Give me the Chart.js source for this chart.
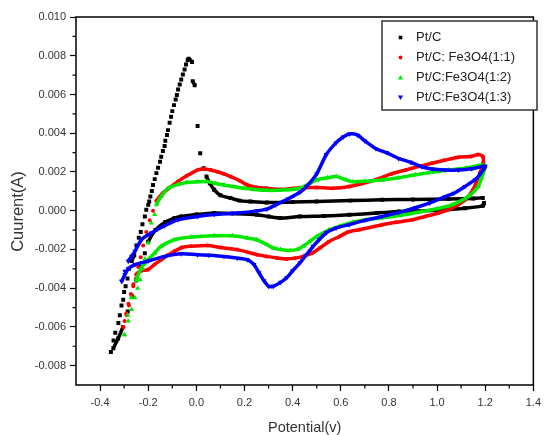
<!DOCTYPE html>
<html>
<head>
<meta charset="utf-8">
<script src="https://cdn.jsdelivr.net/npm/chart.js@4.4.0/dist/chart.umd.min.js"></script>
<style>
  html, body { margin: 0; padding: 0; background: #fff; }
  canvas { display: block; }
</style>
</head>
<body>
<canvas id="cvChart" width="546" height="435"></canvas>
<script>
// Series labels
const seriesLabels = ['Pt/C', 'Pt/C: Fe3O4(1:1)', 'Pt/C:Fe3O4(1:2)', 'Pt/C:Fe3O4(1:3)'];

// Tick values
const xTicks = [-0.4, -0.2, 0.0, 0.2, 0.4, 0.6, 0.8, 1.0, 1.2, 1.4];
const yTicks = [-0.008, -0.006, -0.004, -0.002, 0.000, 0.002, 0.004, 0.006, 0.008, 0.010];
const xMinor = [-0.3, -0.1, 0.1, 0.3, 0.5, 0.7, 0.9, 1.1, 1.3];
const yMinor = [-0.007, -0.005, -0.003, -0.001, 0.001, 0.003, 0.005, 0.007, 0.009];

// [potential (V), current (A)], in sweep order
const ptc = [
    [-0.355, -0.0073], [-0.344, -0.0067], [-0.337, -0.0063], [-0.324, -0.0058], [-0.318, -0.0054],
    [-0.311, -0.0049], [-0.304, -0.0046], [-0.300, -0.0042], [-0.294, -0.0039], [-0.286, -0.0035],
    [-0.280, -0.0030], [-0.269, -0.0026], [-0.258, -0.0023], [-0.249, -0.0018], [-0.239, -0.0014],
    [-0.231, -0.0011], [-0.224, -0.0007], [-0.214, -0.0003], [-0.208, 0.00005], [-0.200, 0.0003],
    [-0.196, 0.00047], [-0.191, 0.00073], [-0.185, 0.00102], [-0.180, 0.00133], [-0.173, 0.00163],
    [-0.166, 0.00194], [-0.159, 0.00222], [-0.151, 0.00253], [-0.146, 0.00279], [-0.139, 0.00308],
    [-0.132, 0.00334], [-0.129, 0.00361], [-0.122, 0.00391], [-0.118, 0.00416], [-0.111, 0.00454],
    [-0.105, 0.00485], [-0.100, 0.00514], [-0.093, 0.00545], [-0.086, 0.00574], [-0.081, 0.00597],
    [-0.076, 0.00626], [-0.069, 0.00652], [-0.063, 0.00677], [-0.056, 0.00703], [-0.049, 0.00729],
    [-0.043, 0.00755], [-0.036, 0.00777], [-0.032, 0.00785], [-0.018, 0.00768], [-0.015, 0.00669],
    [-0.007, 0.00648], [0.005, 0.00437], [0.016, 0.00296], [0.030, 0.00219], [0.042, 0.00176],
    [0.056, 0.00142], [0.074, 0.00108], [0.100, 0.0008], [0.142, 0.00065], [0.180, 0.00052],
    [0.225, 0.00047], [0.293, 0.00042], [0.400, 0.00045], [0.500, 0.00047], [0.640, 0.00052],
    [0.772, 0.00056], [0.900, 0.00058], [1.048, 0.0006], [1.150, 0.00063], [1.190, 0.00065],
    [1.195, 0.0004], [1.190, 0.00025], [1.116, 0.00013], [1.000, 0.00002], [0.842, -0.00004],
    [0.750, -0.00012], [0.636, -0.00021], [0.530, -0.00027], [0.430, -0.0003], [0.348, -0.00038],
    [0.300, -0.0003], [0.252, -0.00021], [0.150, -0.00015], [0.074, -0.00012], [0.000, -0.0002],
    [-0.063, -0.0003], [-0.091, -0.00038], [-0.130, -0.0006], [-0.170, -0.001], [-0.200, -0.0016],
    [-0.214, -0.0022], [-0.235, -0.0029], [-0.250, -0.0036], [-0.268, -0.0044], [-0.285, -0.0052],
    [-0.305, -0.006], [-0.325, -0.0066], [-0.345, -0.0071]
];

const fe11 = [
    [-0.303, -0.0060], [-0.290, -0.0054], [-0.280, -0.0049], [-0.269, -0.0044], [-0.262, -0.0039],
    [-0.251, -0.0035], [-0.242, -0.0029], [-0.231, -0.0024], [-0.221, -0.0018], [-0.208, -0.0011],
    [-0.194, -0.0005], [-0.180, 0.0000], [-0.166, 0.0005], [-0.140, 0.0009], [-0.110, 0.0012],
    [-0.077, 0.0015], [-0.040, 0.0018], [0.005, 0.0021], [0.030, 0.00215], [0.060, 0.0021],
    [0.090, 0.0020], [0.115, 0.0019], [0.142, 0.00176], [0.180, 0.00155], [0.211, 0.00133],
    [0.252, 0.0012], [0.293, 0.00116], [0.350, 0.0011], [0.430, 0.00118], [0.500, 0.0012],
    [0.568, 0.00116], [0.636, 0.00125], [0.690, 0.0014], [0.746, 0.0016], [0.810, 0.0019],
    [0.870, 0.0021], [0.930, 0.0023], [0.979, 0.00245], [1.030, 0.0026], [1.089, 0.00276],
    [1.140, 0.0028], [1.171, 0.0029], [1.190, 0.0028], [1.192, 0.0025], [1.180, 0.0020],
    [1.150, 0.0011], [1.116, 0.00056], [1.062, 0.00013], [1.007, -0.00012], [0.950, -0.0003],
    [0.897, -0.00047], [0.830, -0.0006], [0.772, -0.00073], [0.677, -0.00098], [0.630, -0.0011],
    [0.595, -0.00133], [0.550, -0.0016], [0.513, -0.00193], [0.480, -0.0022], [0.444, -0.00236],
    [0.410, -0.00245], [0.376, -0.00249], [0.335, -0.00244], [0.293, -0.00236], [0.252, -0.00227],
    [0.170, -0.00201], [0.100, -0.0019], [0.047, -0.0018], [-0.022, -0.00184], [-0.060, -0.0019],
    [-0.091, -0.0021], [-0.120, -0.0023], [-0.146, -0.00253], [-0.174, -0.00278], [-0.200, -0.00304],
    [-0.229, -0.0031], [-0.250, -0.0033], [-0.262, -0.0038], [-0.272, -0.0043], [-0.282, -0.0048],
    [-0.291, -0.0053], [-0.298, -0.0057], [-0.303, -0.0060]
];

const fe12 = [
    [-0.299, -0.0064], [-0.283, -0.0057], [-0.269, -0.0051], [-0.255, -0.0045], [-0.244, -0.0040],
    [-0.234, -0.00356], [-0.224, -0.0030], [-0.214, -0.0025], [-0.200, -0.00167], [-0.187, -0.00064],
    [-0.173, -0.0002], [-0.166, 0.0003], [-0.146, 0.00073], [-0.118, 0.00115], [-0.077, 0.00135],
    [-0.040, 0.00145], [0.005, 0.0015], [0.047, 0.0015], [0.080, 0.0014], [0.115, 0.00133],
    [0.197, 0.00116], [0.293, 0.00105], [0.380, 0.00108], [0.430, 0.00116], [0.470, 0.0014],
    [0.500, 0.00159], [0.545, 0.0017], [0.581, 0.00176], [0.620, 0.0016], [0.650, 0.0015],
    [0.700, 0.00152], [0.772, 0.00159], [0.840, 0.0017], [0.910, 0.00185], [0.980, 0.00198],
    [1.048, 0.0021], [1.120, 0.0022], [1.185, 0.00236], [1.200, 0.0023], [1.185, 0.0017],
    [1.171, 0.00125], [1.130, 0.00073], [1.062, 0.0003], [1.000, 0.0001], [0.938, -0.00004],
    [0.870, -0.0002], [0.815, -0.0003], [0.705, -0.00047], [0.650, -0.0006], [0.595, -0.00081],
    [0.550, -0.0010], [0.500, -0.00133], [0.470, -0.0016], [0.444, -0.00184], [0.420, -0.0020],
    [0.390, -0.00205], [0.350, -0.0020], [0.320, -0.00193], [0.293, -0.00175], [0.250, -0.0015],
    [0.211, -0.00141], [0.150, -0.0013], [0.074, -0.00129], [-0.022, -0.00136], [-0.091, -0.0015],
    [-0.146, -0.00184], [-0.173, -0.00218], [-0.200, -0.00253], [-0.228, -0.00295], [-0.250, -0.0036],
    [-0.270, -0.0045], [-0.285, -0.0054], [-0.299, -0.0064]
];

const fe13 = [
    [-0.310, -0.00364], [-0.297, -0.00313], [-0.283, -0.00261], [-0.269, -0.00235], [-0.255, -0.0021],
    [-0.228, -0.0015], [-0.187, -0.00115], [-0.132, -0.00078], [-0.077, -0.00047], [0.005, -0.0003],
    [0.074, -0.0002], [0.170, -0.00012], [0.252, -0.00001], [0.293, 0.00008], [0.330, 0.0003],
    [0.380, 0.0006], [0.430, 0.00095], [0.458, 0.00125], [0.500, 0.0019], [0.540, 0.0029],
    [0.580, 0.0035], [0.610, 0.0038], [0.636, 0.00396], [0.670, 0.0039], [0.700, 0.0036],
    [0.746, 0.0032], [0.790, 0.0030], [0.840, 0.0027], [0.890, 0.0025], [0.937, 0.00227],
    [0.980, 0.00215], [1.034, 0.0021], [1.090, 0.0021], [1.144, 0.00216], [1.200, 0.0023],
    [1.180, 0.0019], [1.158, 0.0016], [1.116, 0.00125], [1.070, 0.0009], [1.034, 0.00073],
    [0.970, 0.0004], [0.910, 0.00015], [0.840, -0.0001], [0.772, -0.0003], [0.700, -0.0005],
    [0.635, -0.00072], [0.580, -0.0009], [0.540, -0.00114], [0.510, -0.0015], [0.485, -0.00184],
    [0.455, -0.0023], [0.430, -0.0027], [0.400, -0.0031], [0.376, -0.00345], [0.350, -0.0037],
    [0.320, -0.0039], [0.300, -0.0039], [0.280, -0.0036], [0.260, -0.0032], [0.239, -0.00278],
    [0.211, -0.00253], [0.170, -0.00245], [0.115, -0.00236], [0.050, -0.0023], [0.005, -0.00227],
    [-0.063, -0.00222], [-0.132, -0.00236], [-0.200, -0.0026], [-0.255, -0.00278], [-0.283, -0.0030],
    [-0.297, -0.0033], [-0.310, -0.00364]
];

const seriesData = [ptc, fe11, fe12, fe13];
const seriesColors = ['#000000', '#ff0000', '#00e800', '#0000ff'];

// Fast sweep parts show as separate markers, not a line.
// Pt/C everywhere, the others only on the steep cathodic end.
function steepGap(allRange) {
    return ctx => {
        const dx = Math.abs(ctx.p1.x - ctx.p0.x);
        const dy = Math.abs(ctx.p1.y - ctx.p0.y);
        const inRange = allRange || (ctx.p0.parsed.x < -0.16 && ctx.p1.parsed.x < -0.16);
        return (inRange && dy > 2.5 * dx && dy > 3) ? 'rgba(0,0,0,0)' : undefined;
    };
}

const markerStyles = [
    { pointStyle: 'rect', pointRadius: 2.8, pointRotation: 0 },
    { pointStyle: 'circle', pointRadius: 2, pointRotation: 0 },
    { pointStyle: 'triangle', pointRadius: 3, pointRotation: 0 },
    { pointStyle: 'triangle', pointRadius: 3, pointRotation: 180 }
];

const datasets = seriesData.map((pts, i) => ({
    label: seriesLabels[i],
    data: pts.map(p => ({ x: p[0], y: p[1] })),
    showLine: true,
    borderColor: seriesColors[i],
    backgroundColor: seriesColors[i],
    pointBorderColor: seriesColors[i],
    pointBackgroundColor: seriesColors[i],
    borderWidth: 3.5,
    pointBorderWidth: 0,
    tension: 0.25,
    order: 4 - i,
    segment: { borderColor: steepGap(i === 0) },
    ...markerStyles[i]
}));

// Frame, minor ticks, y title and the in-plot legend
const framePlugin = {
    id: 'frame',
    afterDraw(chart) {
        const { ctx, chartArea: a, scales } = chart;
        ctx.save();
        ctx.strokeStyle = '#000';
        ctx.lineWidth = 1.5;
        ctx.strokeRect(a.left, a.top, a.right - a.left, a.bottom - a.top);

        ctx.lineWidth = 1.2;
        ctx.beginPath();
        xMinor.forEach(v => {
            const px = scales.x.getPixelForValue(v);
            ctx.moveTo(px, a.bottom);
            ctx.lineTo(px, a.bottom + 3.5);
        });
        yMinor.forEach(v => {
            const py = scales.y.getPixelForValue(v);
            ctx.moveTo(a.left, py);
            ctx.lineTo(a.left - 3.5, py);
        });
        ctx.stroke();

        // y axis title sits a little below the middle in the original
        ctx.save();
        ctx.translate(18.5, 211.5);
        ctx.rotate(-Math.PI / 2);
        ctx.font = '16.5px "Liberation Sans", Arial, sans-serif';
        ctx.fillStyle = '#333';
        ctx.textAlign = 'center';
        ctx.textBaseline = 'middle';
        ctx.fillText('Cuurent(A)', 0, 0);
        ctx.restore();

        // legend
        const box = { x: 382, y: 21, w: 155, h: 89 };
        ctx.fillStyle = '#fff';
        ctx.fillRect(box.x, box.y, box.w, box.h);
        ctx.strokeStyle = '#333';
        ctx.lineWidth = 1.5;
        ctx.strokeRect(box.x, box.y, box.w, box.h);

        ctx.font = '13px "Liberation Sans", Arial, sans-serif';
        ctx.textBaseline = 'middle';
        seriesLabels.forEach((label, i) => {
            const y = 37.5 + i * 20;
            const sx = 400.5;
            ctx.fillStyle = seriesColors[i];
            ctx.beginPath();
            if (i === 0) {
                ctx.rect(sx - 1.8, y - 1.8, 3.6, 3.6);
            } else if (i === 1) {
                ctx.arc(sx, y, 1.9, 0, Math.PI * 2);
            } else if (i === 2) {
                ctx.moveTo(sx, y - 2.6);
                ctx.lineTo(sx + 2.6, y + 2);
                ctx.lineTo(sx - 2.6, y + 2);
                ctx.closePath();
            } else {
                ctx.moveTo(sx, y + 2.6);
                ctx.lineTo(sx + 2.6, y - 2);
                ctx.lineTo(sx - 2.6, y - 2);
                ctx.closePath();
            }
            ctx.fill();
            ctx.fillStyle = '#222';
            ctx.fillText(label, 416, y);
        });
        ctx.restore();
    }
};

Chart.defaults.font.family = '"Liberation Sans", Arial, sans-serif';

new Chart(document.getElementById('cvChart'), {
    type: 'scatter',
    data: { datasets },
    options: {
        responsive: false,
        animation: false,
        devicePixelRatio: 1,
        layout: { padding: { top: 17, right: 7.5, left: 0, bottom: 0 } },
        plugins: {
            legend: { display: false },
            tooltip: { enabled: false }
        },
        scales: {
            x: {
                type: 'linear',
                min: -0.5,
                max: 1.4,
                afterBuildTicks: scale => { scale.ticks = xTicks.map(v => ({ value: v })); },
                afterFit: scale => { scale.height = 50; },
                ticks: {
                    padding: 5,
                    color: '#333',
                    font: { size: 11 },
                    maxRotation: 0,
                    callback: v => v.toFixed(1)
                },
                grid: { drawOnChartArea: false, tickLength: 6, tickColor: '#000', tickWidth: 1.2 },
                border: { display: false },
                title: {
                    display: true,
                    text: 'Potential(v)',
                    color: '#333',
                    font: { size: 14.5, lineHeight: 1 },
                    padding: { top: 0, bottom: 0 }
                }
            },
            y: {
                type: 'linear',
                min: -0.009,
                max: 0.010,
                afterBuildTicks: scale => { scale.ticks = yTicks.map(v => ({ value: v })); },
                afterFit: scale => { scale.width = 76; },
                ticks: {
                    padding: 4,
                    color: '#333',
                    font: { size: 11 },
                    callback: v => v.toFixed(3)
                },
                grid: { drawOnChartArea: false, tickLength: 6, tickColor: '#000', tickWidth: 1.2 },
                border: { display: false },
                title: { display: false }
            }
        }
    },
    plugins: [framePlugin]
});
</script>
</body>
</html>
